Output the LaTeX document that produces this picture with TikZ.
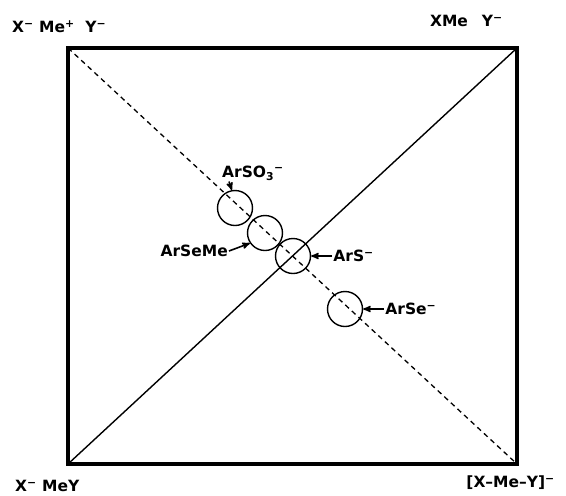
\documentclass[tikz,border=0pt]{standalone}
\usepackage{fontspec}
\setsansfont{DejaVu Sans}
\usepackage{tikz}
\usetikzlibrary{arrows, positioning, calc}
\newcommand{\chgneg}{\textsuperscript{−}}
\newcommand{\chgpos}{\textsuperscript{+}}
\tikzset{
  frame/.style={line width=3.5pt, line join=miter},
  diag/.style={line width=1.4pt},
  ddiag/.style={line width=1.3pt, dash pattern=on 5pt off 4pt},
  ring/.style={circle, draw, line width=1.4pt, minimum size=35pt, inner sep=0pt},
  lbl/.style={font=\sffamily\bfseries\fontsize{15.5}{18}\selectfont, inner sep=1pt},
  arrow/.style={-stealth', line width=1.6pt},
}
\begin{document}
\begin{tikzpicture}[x=1pt, y=-1pt, node distance=1cm]
  \useasboundingbox (0,0) rectangle (566,496);

  % --- corners ---
  \coordinate (tl) at (68,48);
  \coordinate (tr) at (517,48);
  \coordinate (bl) at (68,464);
  \coordinate (br) at (517,464);

  \draw[frame] (tl) rectangle (br);
  \draw[ddiag] (tl) -- (br);
  \draw[diag] (bl) -- (tr);

  % --- corner labels ---
  \node[lbl, anchor=west] (ion) at (11,27) {X\chgneg\ Me\chgpos\ \ Y\chgneg};
  \node[lbl, anchor=east] (xme) at (504,21) {XMe\hspace{14pt}Y\chgneg};
  \node[lbl, anchor=west] (mey) at (14,486) {X\chgneg\ MeY};
  \node[lbl, anchor=east] (cplx) at (556,483) {[X–Me–Y]\chgneg};

  % --- nucleophiles ---
  \node[ring] (so3) at (235,208) {};
  \node[ring] (seme) at (265,233) {};
  \node[ring] (sulf) at (293,256) {};
  \node[ring] (selen) at (345,309) {};

  \node[lbl, anchor=west] (lso3) at (221,173) {ArSO\textsubscript{3}\chgneg};
  \node[lbl, anchor=east] (lseme) at (229,251) {ArSeMe};
  \node[lbl, right=21pt of sulf] (lsulf) {ArS\chgneg};
  \node[lbl, right=21pt of selen] (lselen) {ArSe\chgneg};

  \draw[arrow] ([xshift=8pt]lso3.south west) -- (so3.100);
  \draw[arrow] (lseme.east) -- (seme.214);
  \draw[arrow] (lsulf.west) -- (sulf.east);
  \draw[arrow] (lselen.west) -- (selen.east);

\end{tikzpicture}
\end{document}
